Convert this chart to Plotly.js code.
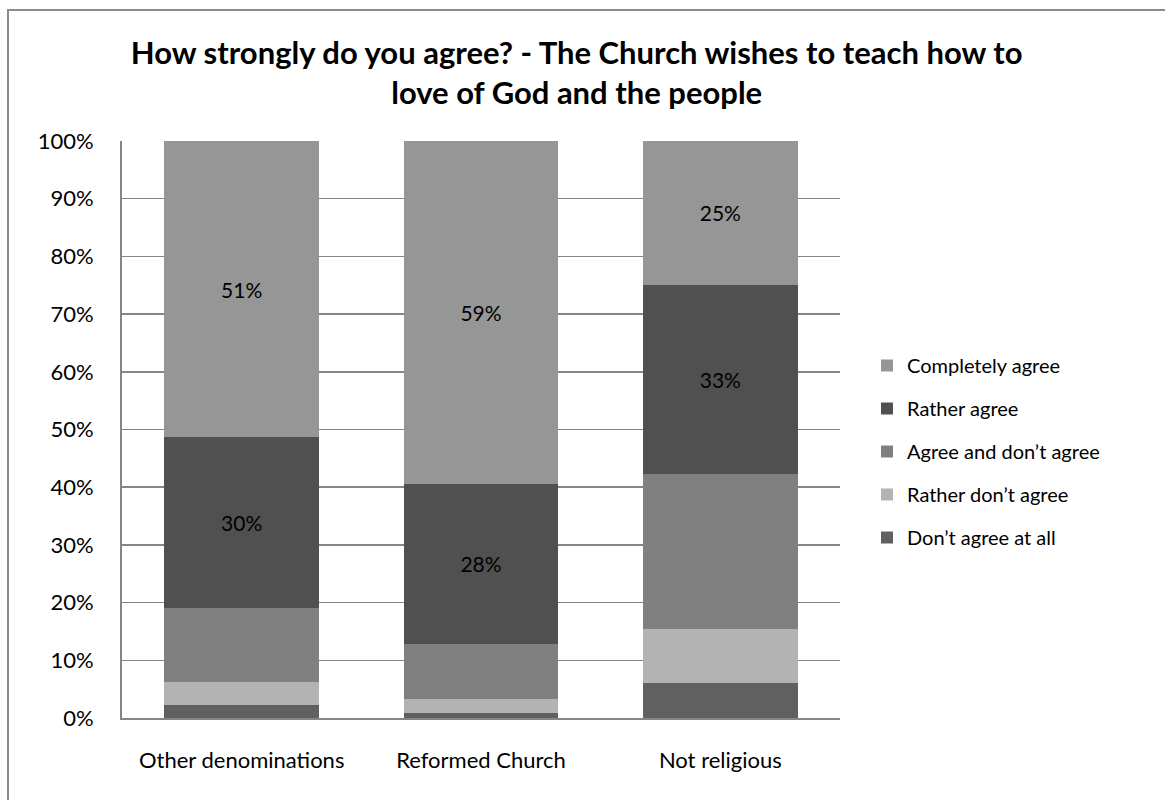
<!DOCTYPE html>
<html>
<head>
<meta charset="utf-8">
<script src="https://cdn.plot.ly/plotly-3.0.1.min.js"></script>
<style>
  html, body { margin: 0; padding: 0; background: #fff; }
  #wrap { position: relative; width: 1165px; height: 800px; overflow: hidden; }
  #chart { position: absolute; left: 0; top: 0; width: 1165px; height: 800px; }
  #frame { position: absolute; left: 7px; top: 9px; width: 1200px; height: 850px;
           border: 2px solid #8c8c8c; pointer-events: none; }
</style>
</head>
<body>
<div id="wrap">
  <div id="chart"></div>
  <div id="frame"></div>
</div>
<script>
const categories = ["Other denominations", "Reformed Church", "Not religious"];
const seriesNames = ["Don’t agree at all", "Rather don’t agree", "Agree and don’t agree", "Rather agree", "Completely agree"];
const dontAgreeAtAll   = [2.2, 0.8, 6.0];
const ratherDontAgree  = [4.0, 2.5, 9.5];
const agreeAndDont     = [12.9, 9.5, 26.8];
const ratherAgree      = [29.6, 27.8, 32.8];
const completelyAgree  = [51.3, 59.4, 24.9];
const labelledSeries   = [false, false, false, true, true];
const colors = ["#606060", "#b3b3b3", "#808080", "#505050", "#969696"];

const allSeries = [dontAgreeAtAll, ratherDontAgree, agreeAndDont, ratherAgree, completelyAgree];
const FONT = "Lato, Carlito, Calibri, 'Open Sans', sans-serif";

const traces = allSeries.map((vals, i) => ({
  type: "bar",
  name: seriesNames[i],
  x: categories,
  y: vals.map(v => v / 100),
  marker: { color: colors[i], line: { width: 0 } },
  text: labelledSeries[i] ? vals.map(v => Math.round(v) + "%") : vals.map(() => ""),
  textposition: labelledSeries[i] ? "inside" : "none",
  insidetextanchor: "middle",
  textfont: { family: FONT, size: 21, color: "#000" },
  textangle: 0,
  hoverinfo: "name+y",
  legendrank: 100 - i,
  legendgroup: "g" + i
}));

const layout = {
  width: 1165, height: 800,
  paper_bgcolor: "#fff", plot_bgcolor: "#fff",
  barmode: "stack",
  bargap: 0.353,
  margin: { l: 122, r: 324.5, t: 141, b: 82 },
  font: { family: FONT, size: 21, color: "#000" },
  title: {
    text: "<b>How strongly do you agree? - The Church wishes to teach how to<br>love of God and the people</b>",
    font: { family: FONT, size: 31, color: "#000" },
    x: 0.495, xref: "container", xanchor: "center",
    y: 1 - 64 / 800, yref: "container", yanchor: "top"
  },
  xaxis: {
    type: "category",
    showgrid: false,
    showline: true, linecolor: "#868686", linewidth: 2,
    ticks: "",
    tickfont: { family: FONT, size: 22, color: "#000" },
    ticklabelstandoff: 22
  },
  yaxis: {
    range: [0, 1],
    dtick: 0.1,
    tickformat: ".0%",
    showgrid: true, gridcolor: "#868686", gridwidth: 1.5,
    showline: true, linecolor: "#868686", linewidth: 2,
    zeroline: false,
    ticks: "",
    tickfont: { family: FONT, size: 22, color: "#000" },
    ticklabelstandoff: 22
  },
  legend: {
    x: 867 / 1165, xref: "container", xanchor: "left",
    y: 1 - 346 / 800, yref: "container", yanchor: "top",
    traceorder: "grouped",
    tracegroupgap: 14,
    font: { family: FONT, size: 20, color: "#000" },
    itemwidth: 30,
    bgcolor: "rgba(0,0,0,0)"
  },
  showlegend: true
};

Plotly.newPlot("chart", traces, layout, { displayModeBar: false, staticPlot: true });
</script>
</body>
</html>
